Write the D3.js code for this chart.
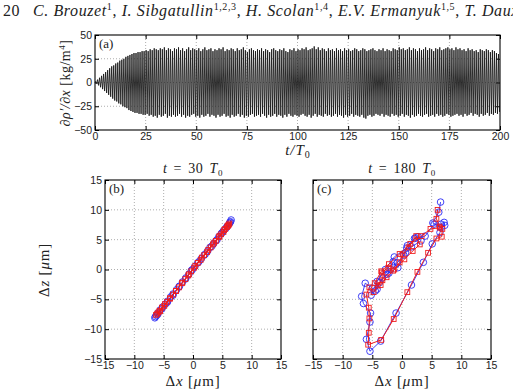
<!DOCTYPE html>
<html>
<head>
<meta charset="utf-8"/>
<script src="https://cdn.jsdelivr.net/npm/d3@7"></script>
<style>
	body { margin:0; background:#fff; }
	.tick text { font:10.5px "Liberation Sans", Arial, sans-serif; fill:#222; }
	.tick line { stroke:#000; }
	.domain { display:none; }
	.serif { font-family:"Liberation Serif", "Times New Roman", serif; fill:#222; }
	.grid line { stroke:#999; stroke-dasharray:1,2; stroke-width:0.8; }
</style>
</head>
<body>
<script>
// panel (a): peak and trough per forcing period, t/T0 = 0..199
var tickA_x = [0, 25, 50, 75, 100, 125, 150, 175, 200];
var tickA_y = [-50, -25, 0, 25, 50];
var peaksUpper = [
	1, 3, 5, 7, 9, 11, 13, 15, 17, 18, 20, 21, 23, 24, 25, 27, 28, 29, 30, 31,
	31, 32, 32, 33, 33, 34, 33, 35, 34, 36, 35, 34, 36, 35, 37, 34, 36, 35, 33, 36,
	35, 37, 34, 36, 33, 35, 37, 34, 36, 35, 34, 36, 33, 35, 37, 34, 35, 36, 33, 35,
	34, 36, 35, 37, 33, 35, 34, 36, 35, 33, 36, 34, 35, 37, 34, 32, 35, 36, 34, 33,
	35, 34, 36, 33, 35, 34, 32, 35, 36, 34, 33, 35, 34, 36, 33, 32, 35, 34, 36, 33,
	35, 34, 36, 35, 37, 34, 35, 36, 38, 35, 37, 34, 36, 35, 33, 36, 34, 35, 33, 36,
	34, 35, 33, 36, 34, 35, 33, 34, 36, 35, 33, 34, 36, 35, 33, 34, 35, 36, 34, 33,
	35, 34, 36, 33, 35, 34, 33, 36, 35, 34, 37, 35, 36, 34, 35, 37, 34, 36, 35, 33,
	36, 34, 35, 37, 34, 36, 35, 33, 36, 35, 37, 34, 35, 36, 37, 35, 36, 34, 37, 35,
	36, 34, 35, 33, 36, 34, 35, 33, 34, 32, 35, 34, 33, 35, 34, 32, 34, 33, 31, 30
];
var peaksLower = [
	-1, -3, -5, -7, -9, -11, -13, -15, -17, -19, -20, -22, -23, -25, -26, -27, -29, -30, -31, -32,
	-32, -33, -33, -34, -34, -33, -35, -34, -36, -35, -37, -34, -36, -35, -33, -37, -35, -36, -34, -36,
	-35, -33, -36, -34, -37, -35, -36, -34, -33, -36, -35, -37, -34, -36, -35, -33, -36, -34, -35, -37,
	-34, -36, -35, -33, -36, -35, -37, -34, -36, -35, -33, -36, -34, -37, -35, -36, -34, -33, -36, -35,
	-34, -36, -33, -35, -37, -34, -36, -35, -33, -36, -34, -35, -37, -34, -36, -33, -35, -36, -34, -35,
	-36, -34, -33, -35, -36, -34, -37, -35, -33, -36, -34, -35, -36, -33, -35, -34, -36, -35, -33, -36,
	-34, -35, -37, -34, -36, -35, -33, -36, -34, -35, -36, -34, -37, -38, -35, -34, -36, -35, -33, -34,
	-35, -33, -36, -34, -35, -36, -33, -35, -34, -36, -35, -33, -36, -34, -35, -37, -34, -36, -35, -33,
	-35, -36, -34, -33, -36, -35, -34, -36, -33, -35, -34, -36, -35, -33, -34, -36, -35, -34, -33, -35,
	-34, -36, -33, -35, -34, -32, -35, -33, -34, -36, -33, -35, -34, -32, -35, -33, -34, -32, -33, -31
];

// panels (b) and (c): displacement orbits [dx, dz] in micrometres
var tickXY = [-15, -10, -5, 0, 5, 10, 15];
var orbitB_blue = [
	[-6.5,-8.1], [-6.0,-7.3], [-5.2,-6.3], [-4.3,-5.3], [-3.4,-4.1], [-2.4,-2.9], [-1.3,-1.6], [-0.3,-0.2],
	[0.8,1.1], [1.9,2.4], [2.9,3.7], [3.9,4.8], [4.8,6.0], [5.6,6.9], [6.2,7.7], [6.5,8.3],
	[6.3,7.9], [5.8,7.2], [5.0,6.2], [4.1,5.0], [3.2,3.9], [2.1,2.6], [1.0,1.3], [-0.1,0.0],
	[-1.2,-1.4], [-2.3,-2.8], [-3.4,-4.3], [-4.4,-5.5], [-5.3,-6.6], [-6.0,-7.5], [-6.4,-7.9],
	[-6.2,-7.7], [-5.6,-6.8], [-4.7,-5.8], [-3.8,-4.6], [-2.8,-3.4], [-1.8,-2.1], [-0.7,-0.8], [0.3,0.5],
	[1.4,1.8], [2.5,3.1], [3.5,4.3], [4.4,5.5], [5.2,6.5], [5.9,7.3], [6.4,8.0]
];
var orbitB_red = [
	[-6.3,-7.6], [-5.7,-6.9], [-4.8,-5.8], [-3.9,-4.8], [-2.9,-3.6], [-1.9,-2.3], [-0.8,-1.0], [0.2,0.3],
	[1.3,1.6], [2.4,2.9], [3.4,4.2], [4.4,5.4], [5.2,6.3], [5.8,7.1], [6.1,7.5], [6.2,7.7],
	[5.9,7.3], [5.3,6.6], [4.5,5.6], [3.6,4.5], [2.6,3.3], [1.5,2.0], [0.4,0.6], [-0.7,-0.8],
	[-1.8,-2.2], [-2.9,-3.6], [-3.9,-4.9], [-4.9,-6.1], [-5.6,-7.0], [-6.1,-7.4],
	[-5.9,-7.2], [-5.3,-6.4], [-4.4,-5.4], [-3.4,-4.2], [-2.4,-3.0], [-1.3,-1.6], [-0.3,-0.3], [0.8,1.1],
	[1.9,2.4], [3.0,3.7], [3.9,4.8], [4.8,5.9], [5.5,6.8], [6.0,7.4]
];
var orbitC_blue = [
	[6.5,11.3], [6.2,9.6], [5.2,7.8], [6.6,7.0], [7.2,7.4], [7.1,7.9], [6.4,6.2], [5.1,4.3],
	[3.6,1.2], [1.6,-2.6], [-1.0,-7.3], [-3.6,-12.0], [-5.4,-13.7], [-6.0,-11.7], [-5.4,-8.8], [-5.3,-7.3],
	[-6.5,-5.7], [-6.8,-4.5], [-6.2,-2.3], [-5.0,-3.1], [-5.2,-4.3], [-4.2,-3.3], [-3.8,-2.2], [-2.5,-0.8],
	[-1.9,0.0], [-1.5,1.3], [-0.7,0.3], [0.3,2.4], [0.9,4.0], [2.1,5.2], [2.7,5.5], [3.2,4.8],
	[1.6,3.8], [0.6,2.8], [-0.8,1.1], [-2.2,-0.6], [-3.3,-1.4], [-4.5,-3.6], [-4.2,-2.0], [-2.8,0.0],
	[-1.3,2.1], [0.8,3.6], [2.3,5.3], [3.9,5.6], [5.4,7.6], [6.6,7.6]
];
var orbitC_red = [
	[6.0,10.0], [5.8,8.5], [6.3,7.2], [6.8,6.8], [6.7,5.5], [5.8,5.2], [4.4,2.8], [2.6,-0.4],
	[0.9,-3.8], [-1.4,-8.3], [-3.5,-11.8], [-5.7,-12.6], [-5.6,-10.6], [-5.5,-8.2], [-5.6,-6.4], [-6.0,-4.2],
	[-5.5,-3.0], [-4.8,-3.8], [-4.1,-2.7], [-3.3,-1.8], [-3.4,-0.5], [-2.3,0.3], [-1.5,-0.2], [-0.4,1.2],
	[0.1,2.5], [1.1,3.7], [2.4,5.6], [3.0,4.2], [1.8,3.1], [0.4,1.7], [-1.3,0.0], [-2.6,-1.3],
	[-3.6,-2.6], [-4.6,-2.3], [-3.5,-0.3], [-2.2,0.9], [-0.4,2.6], [1.4,4.3], [3.3,5.6], [4.8,6.8], [6.4,7.0]
];

var blue = "#2b2bf5";
var red = "#f01c1c";

var svg = d3.select("body").append("svg")
	.attr("width", 513)
	.attr("height", 391);

// header line of the page
var head = svg.append("text")
	.attr("class", "serif")
	.attr("y", 16)
	.style("font-size", "16px")
	.style("letter-spacing", "0.6px");
head.append("tspan").attr("x", 3).text("20");
var authors = [["C. Brouzet", "1"], ["I. Sibgatullin", "1,2,3"], ["H. Scolan", "1,4"], ["E.V. Ermanyuk", "1,5"], ["T. Dauxois", "1"]];
authors.forEach(function(a, i) {
	var t = head.append("tspan").style("font-style", "italic").text(a[0]);
	if (i == 0) t.attr("x", 33);
	head.append("tspan").attr("dy", -6).style("font-size", "10px").text(a[1]);
	head.append("tspan").attr("dy", 6).text(i < authors.length - 1 ? ", " : "");
});

function frame(g, x, y, xt, yt, xLabels, yLabels) {
	var x0 = x.range()[0], x1 = x.range()[1], y0 = y.range()[0], y1 = y.range()[1];
	var grid = g.append("g").attr("class", "grid");
	grid.selectAll(".gx").data(xt.slice(1, -1)).enter().append("line")
		.attr("x1", d => x(d)).attr("x2", d => x(d)).attr("y1", y0).attr("y2", y1);
	grid.selectAll(".gy").data(yt.slice(1, -1)).enter().append("line")
		.attr("y1", d => y(d)).attr("y2", d => y(d)).attr("x1", x0).attr("x2", x1);
	var fmt = d => d < 0 ? "\u2212" + (-d) : d;
	g.append("g").attr("transform", "translate(0," + y0 + ")")
		.call(d3.axisBottom(x).tickValues(xt).tickSize(-4).tickPadding(3).tickFormat(xLabels ? fmt : ""));
	g.append("g").attr("transform", "translate(0," + y1 + ")")
		.call(d3.axisTop(x).tickValues(xt).tickSize(-4).tickFormat(""));
	g.append("g").attr("transform", "translate(" + x0 + ",0)")
		.call(d3.axisLeft(y).tickValues(yt).tickSize(-4).tickPadding(3).tickFormat(yLabels ? fmt : ""));
	g.append("g").attr("transform", "translate(" + x1 + ",0)")
		.call(d3.axisRight(y).tickValues(yt).tickSize(-4).tickFormat(""));
}

function frameBox(g, x, y) {
	g.append("rect")
		.attr("x", x.range()[0]).attr("y", y.range()[1])
		.attr("width", x.range()[1] - x.range()[0])
		.attr("height", y.range()[0] - y.range()[1])
		.attr("fill", "none").attr("stroke", "#000").attr("stroke-width", 1.1);
}

// ---- panel (a)
var xa = d3.scaleLinear().domain([0, 200]).range([95, 500]);
var ya = d3.scaleLinear().domain([-50, 50]).range([130, 35]);
var ga = svg.append("g");
frame(ga, xa, ya, tickA_x, tickA_y, true, true);
var sig = [[0, 0]];
peaksUpper.forEach(function(v, i) {
	sig.push([i + 0.25, v]);
	sig.push([i + 0.75, peaksLower[i]]);
});
ga.append("path")
	.datum(sig)
	.attr("fill", "none")
	.attr("stroke", "#1a1a1a")
	.attr("stroke-width", 0.9)
	.attr("d", d3.line().x(d => xa(d[0])).y(d => ya(d[1])));
frameBox(ga, xa, ya);
ga.append("text").attr("class", "serif").attr("x", 99).attr("y", 48).style("font-size", "13px").text("(a)");
var la = ga.append("text").attr("class", "serif")
	.attr("transform", "translate(70,83) rotate(-90)")
	.attr("text-anchor", "middle").style("font-size", "14px").style("letter-spacing", "0.5px");
la.append("tspan").style("font-style", "italic").text("\u2202\u03c1\u2032/\u2202x");
la.append("tspan").text(" [kg/m");
la.append("tspan").attr("dy", -5).style("font-size", "9px").text("4");
la.append("tspan").attr("dy", 5).text("]");
var lt = ga.append("text").attr("class", "serif")
	.attr("x", 298).attr("y", 155).attr("text-anchor", "middle").style("font-size", "15px").style("letter-spacing", "1px");
lt.append("tspan").style("font-style", "italic").text("t/T");
lt.append("tspan").attr("dy", 3).style("font-size", "10px").text("0");

// ---- panels (b), (c)
function orbitPanel(left, right, blueData, redData, tag, tval, yLabels) {
	var x = d3.scaleLinear().domain([-15, 15]).range([left, right]);
	var y = d3.scaleLinear().domain([-15, 15]).range([359, 180]);
	var g = svg.append("g");
	frame(g, x, y, tickXY, tickXY, true, yLabels);
	var line = d3.line().x(d => x(d[0])).y(d => y(d[1]));
	g.append("path").datum(blueData).attr("fill", "none").attr("stroke", blue).attr("stroke-width", 0.9).attr("d", line);
	g.selectAll(".cb").data(blueData).enter().append("circle")
		.attr("cx", d => x(d[0])).attr("cy", d => y(d[1])).attr("r", 3.3)
		.attr("fill", "none").attr("stroke", blue).attr("stroke-width", 0.9);
	g.append("path").datum(redData).attr("fill", "none").attr("stroke", red).attr("stroke-width", 1).attr("d", line);
	g.selectAll(".sr").data(redData).enter().append("rect")
		.attr("x", d => x(d[0]) - 2.4).attr("y", d => y(d[1]) - 2.4)
		.attr("width", 4.8).attr("height", 4.8)
		.attr("fill", "none").attr("stroke", red).attr("stroke-width", 0.9);
	frameBox(g, x, y);
	g.append("text").attr("class", "serif").attr("x", left + 4).attr("y", 193).style("font-size", "13px").text(tag);
	var mid = (left + right) / 2;
	var tt = g.append("text").attr("class", "serif").attr("x", mid).attr("y", 173)
		.attr("text-anchor", "middle").style("font-size", "14px").style("word-spacing", "2px").style("letter-spacing", "0.6px");
	tt.append("tspan").style("font-style", "italic").text("t");
	tt.append("tspan").text(" = " + tval + " ");
	tt.append("tspan").style("font-style", "italic").text("T");
	tt.append("tspan").attr("dy", 3).style("font-size", "9px").text("0");
	var lx = g.append("text").attr("class", "serif").attr("x", mid).attr("y", 386)
		.attr("text-anchor", "middle").style("font-size", "15px").style("letter-spacing", "0.8px");
	lx.append("tspan").text("\u0394");
	lx.append("tspan").style("font-style", "italic").text("x");
	lx.append("tspan").text(" [");
	lx.append("tspan").style("font-style", "italic").text("\u03bc");
	lx.append("tspan").text("m]");
	if (yLabels) {
		var ly = g.append("text").attr("class", "serif")
			.attr("transform", "translate(" + (left - 56) + ",270) rotate(-90)")
			.attr("text-anchor", "middle").style("font-size", "15px").style("letter-spacing", "0.8px");
		ly.append("tspan").text("\u0394");
		ly.append("tspan").style("font-style", "italic").text("z");
		ly.append("tspan").text(" [");
		ly.append("tspan").style("font-style", "italic").text("\u03bc");
		ly.append("tspan").text("m]");
	}
}

orbitPanel(105, 281, orbitB_blue, orbitB_red, "(b)", "30", true);
orbitPanel(313, 491, orbitC_blue, orbitC_red, "(c)", "180", false);
</script>
</body>
</html>
